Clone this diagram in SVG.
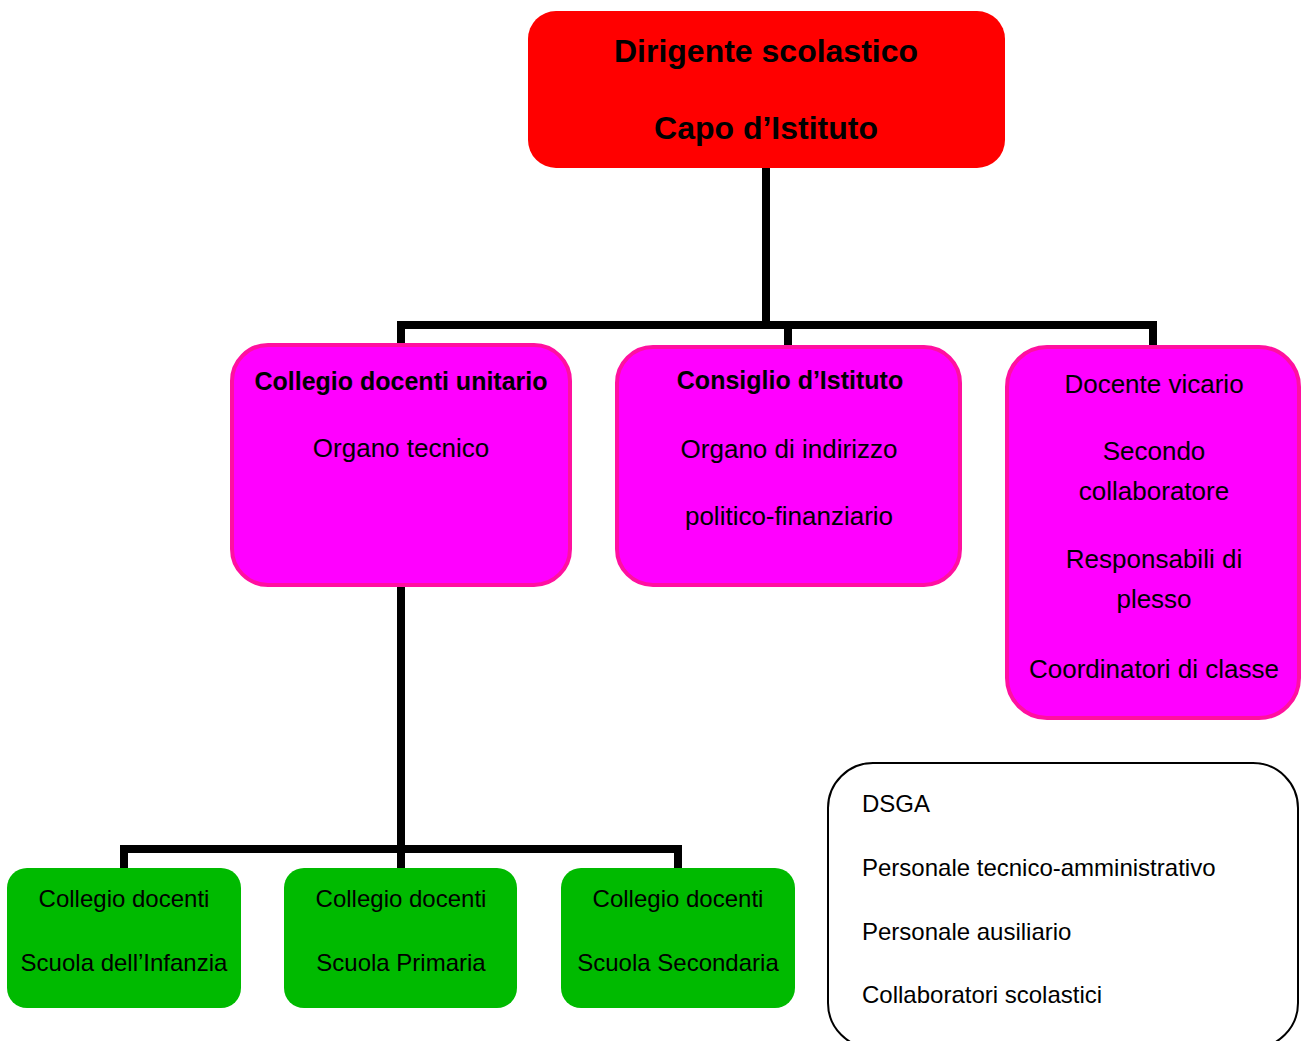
<svg xmlns="http://www.w3.org/2000/svg" width="1302" height="1041" viewBox="0 0 1302 1041">
<style>
text{font-family:"Liberation Sans",Arial,sans-serif;fill:#000;text-anchor:middle}
.b{font-weight:bold}
.t{font-size:32px}
.p{font-size:25px}
.r{font-size:26px}
.g{font-size:24px}
.w{font-size:24px;text-anchor:start}
.pink{fill:#FF00FF;stroke:#FF10A0;stroke-width:4}
.green{fill:#00BA00}
.conn{fill:none;stroke:#000;stroke-width:8;stroke-linejoin:miter}
</style>
<rect width="1302" height="1041" fill="#fff"/>
<g id="connectors">
<path class="conn" d="M766,168 V325"/>
<path class="conn" d="M401,345 V325 H1153 V345"/>
<path class="conn" d="M788,325 V345"/>
<path class="conn" d="M401,587 V849"/>
<path class="conn" d="M124,868 V849 H678 V868"/>
<path class="conn" d="M401,849 V868"/>
</g>
<g id="dirigente">
<rect x="528" y="11" width="477" height="157" rx="28" fill="#FF0000"/>
<text class="b t" x="766" y="62">Dirigente scolastico</text>
<text class="b t" x="766" y="139">Capo d’Istituto</text>
</g>
<g id="collegio-unitario">
<rect class="pink" x="232" y="345" width="338" height="240" rx="36"/>
<text class="b p" x="401" y="390">Collegio docenti unitario</text>
<text class="r" x="401" y="457">Organo tecnico</text>
</g>
<g id="consiglio">
<rect class="pink" x="617" y="347" width="343" height="238" rx="36"/>
<text class="b p" x="790" y="389">Consiglio d’Istituto</text>
<text class="r" x="789" y="458">Organo di indirizzo</text>
<text class="r" x="789" y="525">politico-finanziario</text>
</g>
<g id="vicario">
<rect class="pink" x="1007" y="347" width="292" height="371" rx="40"/>
<text class="r" x="1154" y="393">Docente vicario</text>
<text class="r" x="1154" y="460">Secondo</text>
<text class="r" x="1154" y="500">collaboratore</text>
<text class="r" x="1154" y="568">Responsabili di</text>
<text class="r" x="1154" y="608">plesso</text>
<text class="r" x="1154" y="678">Coordinatori di classe</text>
</g>
<g id="infanzia">
<rect class="green" x="7" y="868" width="234" height="140" rx="20"/>
<text class="g" x="124" y="907">Collegio docenti</text>
<text class="g" x="124" y="971">Scuola dell’Infanzia</text>
</g>
<g id="primaria">
<rect class="green" x="284" y="868" width="233" height="140" rx="20"/>
<text class="g" x="401" y="907">Collegio docenti</text>
<text class="g" x="401" y="971">Scuola Primaria</text>
</g>
<g id="secondaria">
<rect class="green" x="561" y="868" width="234" height="140" rx="20"/>
<text class="g" x="678" y="907">Collegio docenti</text>
<text class="g" x="678" y="971">Scuola Secondaria</text>
</g>
<g id="personale">
<rect x="828" y="763" width="470" height="285" rx="45" fill="#fff" stroke="#000" stroke-width="2"/>
<text class="w" x="862" y="812">DSGA</text>
<text class="w" x="862" y="876">Personale tecnico-amministrativo</text>
<text class="w" x="862" y="940">Personale ausiliario</text>
<text class="w" x="862" y="1003">Collaboratori scolastici</text>
</g>
</svg>
